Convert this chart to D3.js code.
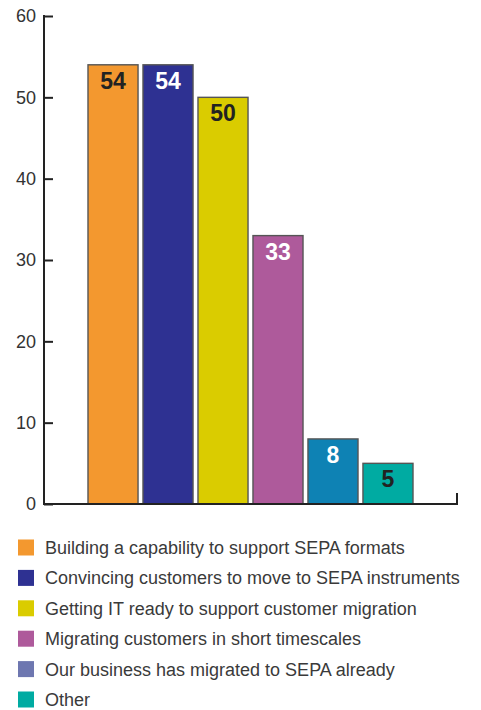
<!DOCTYPE html>
<html>
<head>
<meta charset="utf-8">
<script src="https://cdn.jsdelivr.net/npm/d3@7/dist/d3.min.js"></script>
<style>
  html, body { margin: 0; padding: 0; background: #fff; }
  svg { display: block; }
</style>
</head>
<body>
<svg id="chart" width="481" height="710"></svg>
<script>
// Survey results: main SEPA migration challenges (%)
const categories = [
  "Building a capability to support SEPA formats",
  "Convincing customers to move to SEPA instruments",
  "Getting IT ready to support customer migration",
  "Migrating customers in short timescales",
  "Our business has migrated to SEPA already",
  "Other"
];
const values = [54, 54, 50, 33, 8, 5];
const barColors = ["#F3982F", "#2E3192", "#DACC00", "#AE5A9B", "#0E82B4", "#00ABA2"];
const legendColors = ["#F3982F", "#2E3192", "#DACC00", "#AE5A9B", "#6E77B0", "#00ABA2"];
const labelColors = ["#222", "#fff", "#222", "#fff", "#fff", "#222"];
const yTicks = [0, 10, 20, 30, 40, 50, 60];

const svg = d3.select("#chart");
const font = "'Liberation Sans', Arial, Helvetica, sans-serif";

const x = d3.scaleBand()
  .domain(categories)
  .range([44, 457])
  .paddingInner(0.09)
  .paddingOuter(0.8);

const y = d3.scaleLinear().domain([0, 60]).range([504, 16]);

// Bars
svg.append("g").selectAll("rect")
  .data(values)
  .join("rect")
  .attr("x", (d, i) => x(categories[i]))
  .attr("y", d => y(d))
  .attr("width", x.bandwidth())
  .attr("height", d => y(0) - y(d))
  .attr("fill", (d, i) => barColors[i])
  .attr("stroke", "#555")
  .attr("stroke-width", 1.4);

// Value labels inside the bar tops
svg.append("g").selectAll("text")
  .data(values)
  .join("text")
  .attr("x", (d, i) => x(categories[i]) + x.bandwidth() / 2)
  .attr("y", d => y(d) + 24)
  .attr("text-anchor", "middle")
  .attr("font-family", font)
  .attr("font-weight", "bold")
  .attr("font-size", 23)
  .attr("fill", (d, i) => labelColors[i])
  .text(d => d);

// Y axis
const yAxis = d3.axisLeft(y).tickValues(yTicks).tickSize(0).tickPadding(8);
const gy = svg.append("g").attr("transform", "translate(44,0)").call(yAxis);
gy.select(".domain").remove();
gy.selectAll("text")
  .attr("font-family", font)
  .attr("font-size", 18)
  .attr("fill", "#333");
gy.selectAll(".tick").append("line")
  .attr("x1", 0).attr("x2", 9)
  .attr("stroke", "#222").attr("stroke-width", 2);
gy.append("line")
  .attr("x1", 0).attr("x2", 0)
  .attr("y1", y(60) - 1).attr("y2", y(0) + 1)
  .attr("stroke", "#222").attr("stroke-width", 2);

// X baseline with end tick
const [x0, x1] = x.range();
svg.append("path")
  .attr("d", `M${x0},${y(0)}H${x1}V${y(0) - 11}`)
  .attr("fill", "none")
  .attr("stroke", "#222")
  .attr("stroke-width", 2);

// Legend
const legend = svg.append("g").attr("transform", "translate(18,547.5)");
const rows = legend.selectAll("g")
  .data(categories)
  .join("g")
  .attr("transform", (d, i) => `translate(0,${i * 30.4})`);
rows.append("rect")
  .attr("x", 0).attr("y", -8)
  .attr("width", 16).attr("height", 16)
  .attr("fill", (d, i) => legendColors[i]);
rows.append("text")
  .attr("x", 27).attr("y", 6.5)
  .attr("font-family", font)
  .attr("font-size", 18)
  .attr("fill", "#3a3a3a")
  .text(d => d);
</script>
</body>
</html>
